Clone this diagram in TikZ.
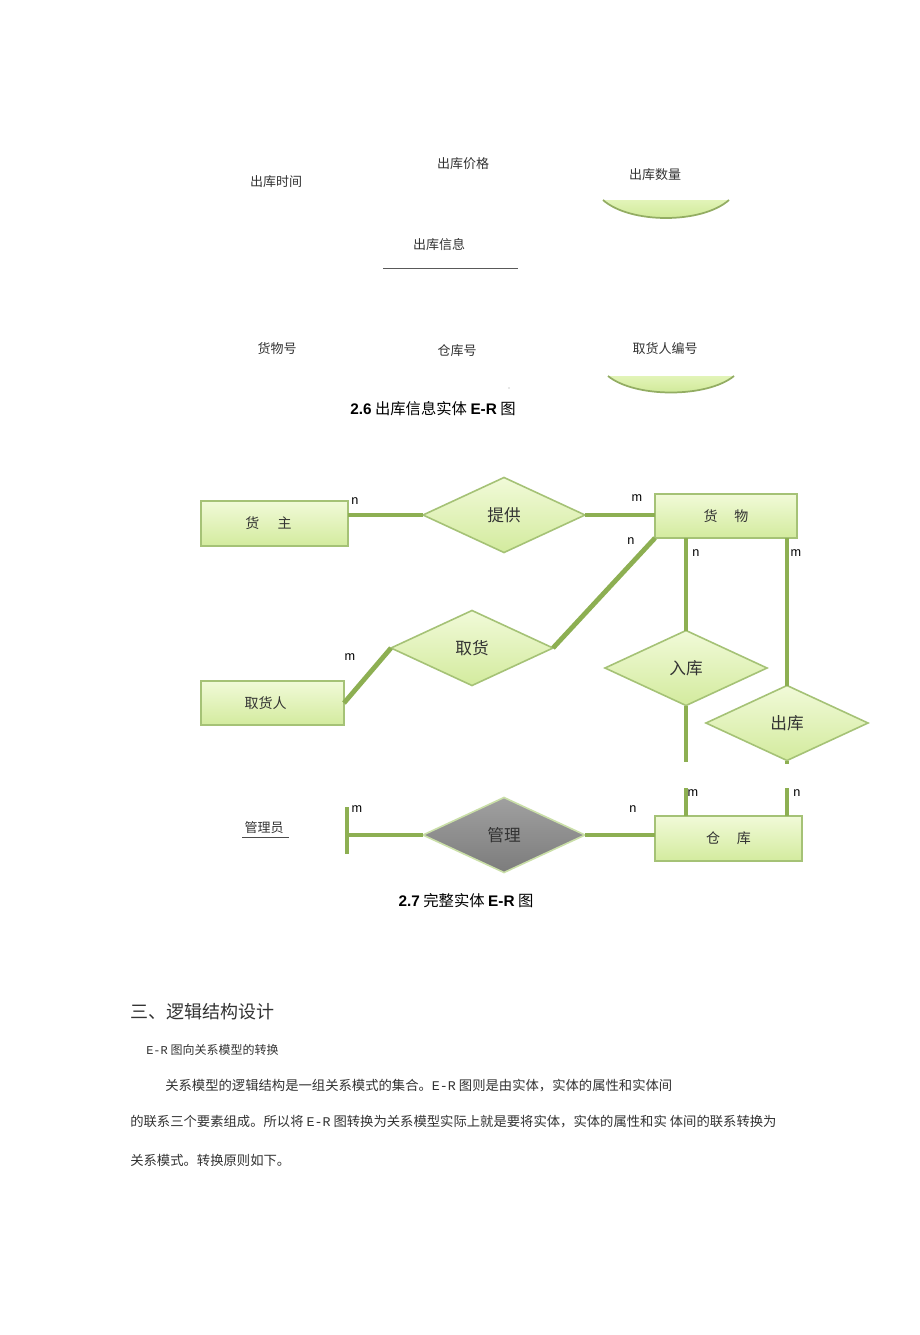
\documentclass[tikz,border=0pt]{standalone}
\usepackage{fontspec}
\setmainfont{Noto Sans CJK SC}
\newfontfamily\lat{Liberation Sans}
\newfontfamily\latmono{Liberation Mono}
\usetikzlibrary{shapes.geometric}
\definecolor{gfillT}{HTML}{F1FAD8}
\definecolor{gfillB}{HTML}{D3EB9E}
\definecolor{arcT}{HTML}{E2F4B8}
\definecolor{arcB}{HTML}{CBE68F}
\definecolor{gedge}{HTML}{A5C276}
\definecolor{gline}{HTML}{8DAF52}
\definecolor{garc}{HTML}{93AD63}
\definecolor{grayT}{HTML}{A0A0A0}
\definecolor{grayB}{HTML}{7C7C7C}
\definecolor{gedgeL}{HTML}{CADFA8}
\definecolor{txt}{HTML}{333333}
\tikzset{
  entity/.style={rectangle, draw=gedge, line width=1.2pt, top color=gfillT, bottom color=gfillB,
    inner sep=0pt, outer sep=0pt, text=txt, font=\fontsize{10.5}{12}\selectfont},
  relation/.style={diamond, draw=gedge, line width=1.2pt, top color=gfillT, bottom color=gfillB,
    inner sep=0pt, outer sep=0pt, aspect=2.16, minimum width=121.5pt, minimum height=56.25pt,
    text=txt, font=\fontsize{12.5}{14}\selectfont},
  grayrel/.style={relation, draw=gedgeL, top color=grayT, bottom color=grayB},
  conn/.style={draw=gline, line width=3.6pt},
  card/.style={font=\lat\fontsize{9.5}{11}\selectfont, inner sep=0pt},
  attr/.style={font=\fontsize{9.75}{11}\selectfont, inner sep=0pt, text=txt},
  figcap/.style={font=\fontsize{11.5}{13}\selectfont, inner sep=0pt},
  body/.style={font=\fontsize{10}{12}\selectfont, inner sep=0pt, anchor=west, text=txt},
}
\begin{document}
\begin{tikzpicture}[x=0.75pt,y=-0.75pt]
\useasboundingbox[fill=white] (0,0) rectangle (920,1335);

% ---------- 2.6 ----------
\node[attr] (a1) at (276,182) {出库时间};
\node[attr] (a2) at (463,164) {出库价格};
\node[attr] (a3) at (655,175) {出库数量};
\fill[top color=arcT, bottom color=arcB] (603,200) .. controls (630,224) and (702,224) .. (729,200) -- cycle;
\draw[garc, line width=1.3pt] (603,200) .. controls (630,224) and (702,224) .. (729,200);
\node[attr] (a4) at (439,245) {出库信息};
\coordinate (u1) at (383,268);
\coordinate (u2) at (518,268);
\draw[black!65, line width=0.6pt] (u1) -- (u2);
\node[attr] (a5) at (277,349) {货物号};
\node[attr] (a6) at (457,351) {仓库号};
\node[attr] (a7) at (665,349) {取货人编号};
\fill[top color=arcT, bottom color=arcB] (608,376) .. controls (635,398) and (707,398) .. (734,376) -- cycle;
\draw[garc, line width=1.3pt] (608,376) .. controls (635,398) and (707,398) .. (734,376);
\fill[black!40] (509,388) circle (0.6);
\node[figcap] (cap1) at (433,409) {{\lat\bfseries 2.6} 出库信息实体 {\lat\bfseries E-R} 图};

% ---------- 2.7 ----------
\node[entity, minimum width=110.25pt, minimum height=33.75pt] (huozhu) at (274.5,523.5) {货\hspace{1.3em}主\hspace{9pt}\mbox{}};
\node[entity, minimum width=106.5pt, minimum height=33pt] (huowu) at (726,516) {货\hspace{1.2em}物};
\node[entity, minimum width=107.25pt, minimum height=33pt] (quhuoren) at (272.5,703) {取货人\hspace{10.5pt}\mbox{}};
\node[entity, minimum width=110.25pt, minimum height=33.75pt] (cangku) at (728.5,838.5) {仓\hspace{1.2em}库};

\node[relation] (tigong) at (504,515) {提供};
\node[relation] (quhuo) at (472,648) {取货};
\node[relation] (ruku) at (686,668) {入库};
\node[relation] (chuku) at (787,723) {出库};
\node[grayrel] (guanli) at (504,835) {管理};

\node[attr] (gly) at (264,828) {管理员};
\coordinate (g1) at (242,837);
\coordinate (g2) at (289,837);
\draw[black!70, line width=0.6pt] (g1) -- (g2);

% connectors
\draw[conn] (tigong.west) -- (tigong.west -| huozhu.east);
\draw[conn] (tigong.east) -- (tigong.east -| huowu.west);
\draw[conn] (huowu.south west) -- (quhuo.east);
\draw[conn] (quhuoren.east) -- (quhuo.west);
\draw[conn] (ruku.north) -- (ruku.north |- huowu.south);
\draw[conn] (chuku.north) -- (chuku.north |- huowu.south);
\coordinate (r1) at (686,762);
\coordinate (r2) at (686,788);
\draw[conn] (ruku.south) -- (r1);
\draw[conn] (r2) -- (r2 |- cangku.north);
\coordinate (c1) at (787,764);
\coordinate (c2) at (787,788);
\draw[conn] (chuku.south) -- (c1);
\draw[conn] (c2) -- (c2 |- cangku.north);
\coordinate (tb1) at (347,807);
\coordinate (tb2) at (347,854);
\coordinate (tb) at (347,835);
\draw[gline, line width=2.4pt] (tb1) -- (tb2);
\draw[conn] (guanli.west) -- (tb);
\draw[conn] (guanli.east) -- (guanli.east -| cangku.west);

% cardinalities
\node[card] (k1) at (355,501) {n};
\node[card] (k2) at (637,498) {m};
\node[card] (k3) at (631,541) {n};
\node[card] (k4) at (696,553) {n};
\node[card] (k5) at (796,553) {m};
\node[card] (k6) at (350,657) {m};
\node[card] (k7) at (357,809) {m};
\node[card] (k8) at (633,809) {n};
\node[card] (k9) at (693,793) {m};
\node[card] (k10) at (797,793) {n};

\node[figcap] (cap2) at (466,901) {{\lat\bfseries 2.7} 完整实体 {\lat\bfseries E-R} 图};

% ---------- text ----------
\node[body, font=\fontsize{13.5}{15}\selectfont] (h3) at (130,1012) {三、逻辑结构设计};
\node[body, font=\fontsize{9}{11}\selectfont] (sub) at (146,1050) {{\latmono E-R} 图向关系模型的转换};
\node[body] (p1) at (165,1086) {关系模型的逻辑结构是一组关系模式的集合。{\latmono E-R} 图则是由实体，实体的属性和实体间};
\node[body] (p2) at (130,1122) {的联系三个要素组成。所以将 {\latmono E-R} 图转换为关系模型实际上就是要将实体，实体的属性和实 体间的联系转换为};
\node[body] (p3) at (130,1160) {关系模式。转换原则如下。};
\end{tikzpicture}
\end{document}
